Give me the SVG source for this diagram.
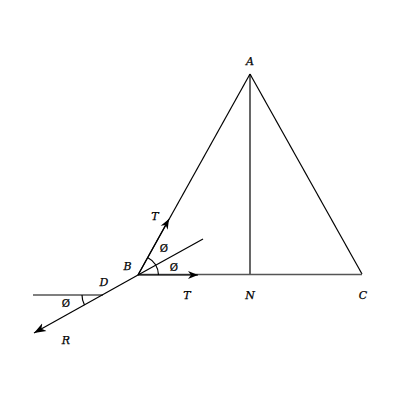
<svg xmlns="http://www.w3.org/2000/svg" width="400" height="400" viewBox="0 0 400 400">
<style>
.ln{stroke:#000;stroke-width:1.2;fill:none}
.gr{stroke:#555;stroke-width:1.6;fill:none}
.lb{font-family:"DejaVu Serif",serif;font-style:italic;font-size:11px;fill:#000;stroke:#000;stroke-width:0.25;text-anchor:middle}
.ph{font-family:"DejaVu Sans",sans-serif;font-size:10.5px;fill:#000;stroke:#000;stroke-width:0.2;text-anchor:middle}
</style>
<defs>
<marker id="ah" viewBox="0 0 10 10" refX="10" refY="5" markerWidth="10" markerHeight="10" markerUnits="userSpaceOnUse" orient="auto">
<path d="M0,1 L10,5 L0,9 L3,5 Z" fill="#000"/>
</marker>
<marker id="ahb" viewBox="0 0 12 10" refX="12" refY="5" markerWidth="12" markerHeight="10" markerUnits="userSpaceOnUse" orient="auto">
<path d="M0,0.5 L12,5 L0,9.5 L3.5,5 Z" fill="#000"/>
</marker>
</defs>
<g id="connectors">
<line class="ln" x1="138" y1="275" x2="250" y2="74"/>
<line class="ln" x1="250" y1="74" x2="362" y2="274"/>
<line class="ln" x1="250" y1="74" x2="250" y2="274"/>
<line class="gr" x1="138" y1="274.5" x2="362" y2="274.5"/>
<line class="gr" x1="33" y1="295" x2="103" y2="295"/>
<line class="ln" x1="138" y1="275" x2="203" y2="239"/>
<line class="ln" x1="138" y1="275" x2="198" y2="275" marker-end="url(#ah)"/>
<line class="ln" x1="138" y1="275" x2="169" y2="219" marker-end="url(#ah)"/>
<line class="ln" x1="138" y1="275" x2="34" y2="333" marker-end="url(#ahb)"/>
<path class="ln" d="M158.5,275 A20.5,20.5 0 0 0 147.5,257.5"/>
<path class="ln" d="M82,295 A21,21 0 0 0 84.5,305" stroke-width="1"/>
</g>
<g id="labels">
<text class="lb" x="250" y="65">A</text>
<text class="lb" x="250" y="299">N</text>
<text class="lb" x="363" y="299">C</text>
<text class="lb" x="127.5" y="270">B</text>
<text class="lb" x="104" y="286">D</text>
<text class="lb" x="155" y="220">T</text>
<text class="lb" x="187" y="299">T</text>
<text class="lb" x="66" y="344">R</text>
<text class="ph" x="164" y="252">Ø</text>
<text class="ph" x="174" y="271">Ø</text>
<text class="ph" x="66" y="307">Ø</text>
</g>
</svg>
